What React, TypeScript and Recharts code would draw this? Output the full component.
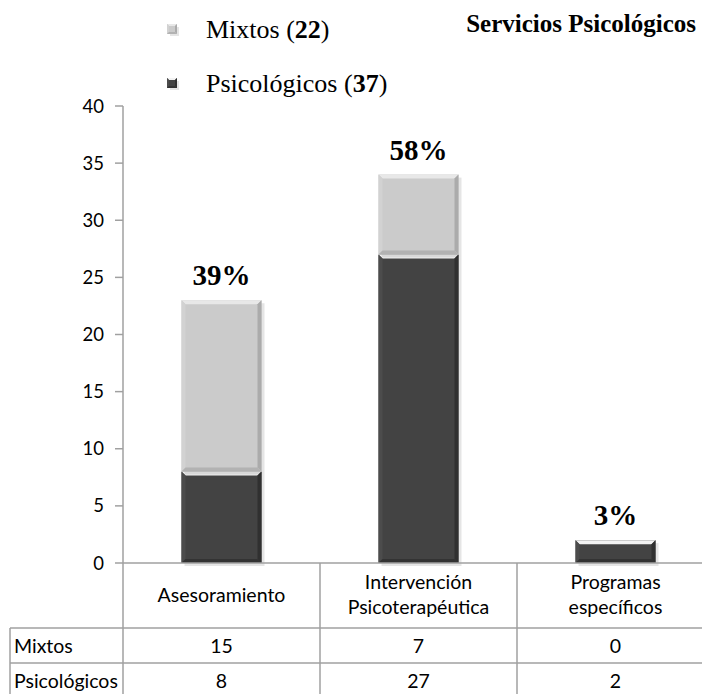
import { Bar, BarChart, LabelList, XAxis, YAxis } from "recharts";

const categories = ["Asesoramiento", "Intervención\nPsicoterapéutica", "Programas\nespecíficos"];
const mixtos = [15, 7, 0];
const psicologicos = [8, 27, 2];
const percents = ["39%", "58%", "3%"];
const yTicks = [0, 5, 10, 15, 20, 25, 30, 35, 40];
const rowNames = ["Mixtos", "Psicológicos"];

const CHART_W = 720;
const CHART_H = 700;
const PLOT_LEFT = 123;
const PLOT_RIGHT = 6;
const PLOT_TOP = 106;
const AXIS_Y = 563;
const BAND = (CHART_W - PLOT_LEFT - PLOT_RIGHT) / categories.length;
const ROW_LINES = [628, 663];
const ROW_TEXT_Y = [645, 680];
const LINE = "#a0a0a0";
const SANS = "Lato, 'Open Sans', sans-serif";
const SERIF = "'Liberation Serif', 'Times New Roman', serif";
const TABLE_FONT = 19.5;

const data = categories.map((name, i) => ({
  name,
  mixtos: mixtos[i],
  psicologicos: psicologicos[i],
  pct: percents[i],
}));

type Palette = { face: string; top: string; left: string; right: string; bottom: string };

const LIGHT: Palette = { face: "#cbcbcb", top: "#e8e8e8", left: "#d2d2d2", right: "#ababab", bottom: "#b2b2b2" };
const DARK: Palette = { face: "#434343", top: "#f2f2f2", left: "#4c4c4c", right: "#303030", bottom: "#333333" };

function bevel(p: Palette, size = 4) {
  return (props: any) => {
    const { x, y, width, height } = props;
    if (!height || height <= 0) return <g />;
    const b = Math.min(size, height / 2);
    const x2 = x + width;
    const y2 = y + height;
    return (
      <g>
        <rect x={x + 3} y={y + 3} width={width} height={height} fill="rgba(0,0,0,0.1)" />
        <rect x={x} y={y} width={width} height={height} fill={p.face} />
        <polygon points={`${x},${y} ${x2},${y} ${x2 - b},${y + b} ${x + b},${y + b}`} fill={p.top} />
        <polygon points={`${x},${y} ${x + b},${y + b} ${x + b},${y2 - b} ${x},${y2}`} fill={p.left} />
        <polygon points={`${x2},${y} ${x2},${y2} ${x2 - b},${y2 - b} ${x2 - b},${y + b}`} fill={p.right} />
        <polygon points={`${x},${y2} ${x + b},${y2 - b} ${x2 - b},${y2 - b} ${x2},${y2}`} fill={p.bottom} />
      </g>
    );
  };
}

function TableTick(props: any) {
  const { x, payload, index } = props;
  const lines = String(payload.value).split("\n");
  const left = x - BAND / 2;
  const right = x + BAND / 2;
  const labelYs = lines.length === 1 ? [594] : [581, 606];
  return (
    <g>
      <line x1={left} y1={AXIS_Y} x2={left} y2={CHART_H} stroke={LINE} strokeWidth={1.5} />
      {index === categories.length - 1 && (
        <line x1={right} y1={AXIS_Y} x2={right} y2={CHART_H} stroke={LINE} strokeWidth={1.5} />
      )}
      {index === 0 && (
        <g>
          <line x1={10} y1={ROW_LINES[0]} x2={10} y2={CHART_H} stroke={LINE} strokeWidth={1.5} />
          {ROW_LINES.map((ly) => (
            <line key={ly} x1={10} y1={ly} x2={CHART_W} y2={ly} stroke={LINE} strokeWidth={1.5} />
          ))}
          {rowNames.map((r, i) => (
            <text key={r} x={14} y={ROW_TEXT_Y[i]} dominantBaseline="central" fontFamily={SANS} fontSize={TABLE_FONT} fill="#000">
              {r}
            </text>
          ))}
        </g>
      )}
      {lines.map((l, i) => (
        <text key={l} x={x} y={labelYs[i]} textAnchor="middle" dominantBaseline="central" fontFamily={SANS} fontSize={TABLE_FONT} fill="#000">
          {l}
        </text>
      ))}
      {[mixtos[index], psicologicos[index]].map((v, i) => (
        <text key={i} x={x} y={ROW_TEXT_Y[i]} textAnchor="middle" dominantBaseline="central" fontFamily={SANS} fontSize={TABLE_FONT} fill="#000">
          {v}
        </text>
      ))}
    </g>
  );
}

function Marker({ p }: { p: Palette }) {
  return (
    <svg width={12} height={12} style={{ display: "block" }}>
      {bevel(p, 2)({ x: 0, y: 0, width: 10, height: 10 })}
    </svg>
  );
}

const total = (arr: number[]) => arr.reduce((a, b) => a + b, 0);

export default function App() {
  const legend = [
    { name: "Mixtos", n: total(mixtos), p: LIGHT, top: 30 },
    { name: "Psicológicos", n: total(psicologicos), p: DARK, top: 84 },
  ];
  return (
    <div
      style={{
        position: "fixed",
        left: 0,
        top: 0,
        width: 702,
        height: 694,
        overflow: "hidden",
        background: "#fff",
      }}
    >
      <BarChart
        width={CHART_W}
        height={CHART_H}
        data={data}
        margin={{ top: PLOT_TOP, right: PLOT_RIGHT, left: 0, bottom: 0 }}
        barCategoryGap="29.7%"
      >
        <YAxis
          domain={[0, 40]}
          ticks={yTicks}
          width={PLOT_LEFT}
          axisLine={{ stroke: LINE, strokeWidth: 1.5 }}
          tickLine={{ stroke: LINE, strokeWidth: 1.5 }}
          tickSize={8}
          tickMargin={11}
          tick={{ fill: "#000", fontSize: 18.5, fontFamily: SANS }}
          interval={0}
        />
        <XAxis
          dataKey="name"
          height={CHART_H - AXIS_Y}
          axisLine={{ stroke: LINE, strokeWidth: 1.5 }}
          tickLine={false}
          tickSize={0}
          tickMargin={0}
          tick={<TableTick />}
          interval={0}
        />
        <Bar dataKey="psicologicos" stackId="a" isAnimationActive={false} shape={bevel(DARK)} />
        <Bar dataKey="mixtos" stackId="a" isAnimationActive={false} shape={bevel(LIGHT)}>
          <LabelList
            dataKey="pct"
            position="top"
            offset={15}
            fill="#000"
            fontSize={29}
            fontWeight="bold"
            fontFamily={SERIF}
          />
        </Bar>
      </BarChart>
      {legend.map((l) => (
        <div
          key={l.name}
          style={{
            position: "absolute",
            left: 167,
            top: l.top - 15,
            height: 30,
            display: "flex",
            alignItems: "center",
            fontFamily: SERIF,
            fontSize: 26,
            color: "#000",
            whiteSpace: "nowrap",
          }}
        >
          <Marker p={l.p} />
          <span style={{ marginLeft: 27 }}>
            {l.name} (<b>{l.n}</b>)
          </span>
        </div>
      ))}
      <div
        style={{
          position: "absolute",
          right: 6,
          top: 10,
          fontFamily: SERIF,
          fontSize: 25,
          fontWeight: "bold",
          color: "#000",
          whiteSpace: "nowrap",
        }}
      >
        Servicios Psicológicos
      </div>
    </div>
  );
}
